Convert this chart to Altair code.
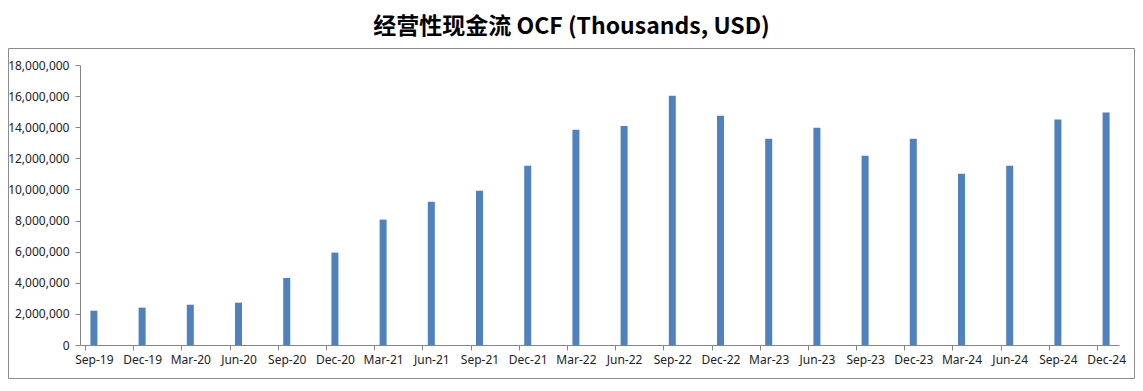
import altair as alt
import pandas as pd

quarters = ["Sep-19", "Dec-19", "Mar-20", "Jun-20", "Sep-20", "Dec-20", "Mar-21", "Jun-21",
            "Sep-21", "Dec-21", "Mar-22", "Jun-22", "Sep-22", "Dec-22", "Mar-23", "Jun-23",
            "Sep-23", "Dec-23", "Mar-24", "Jun-24", "Sep-24", "Dec-24"]
ocf = [2205000, 2400000, 2590000, 2720000, 4310000, 5940000, 8060000, 9210000,
       9920000, 11530000, 13830000, 14080000, 16030000, 14740000, 13260000, 13970000,
       12170000, 13260000, 11010000, 11530000, 14490000, 14940000]

df = pd.DataFrame({"idx": list(range(len(quarters))), "q": quarters, "ocf": ocf})

W, H = 1039, 280
label_expr = "[" + ",".join("'" + q + "'" for q in quarters) + "][datum.value]"

bars = alt.Chart(df).mark_bar(color="#4F81BD", size=7).encode(
    x=alt.X("idx:Q", scale=alt.Scale(domain=[-0.185, 21.164], nice=False, zero=False),
            axis=alt.Axis(values=list(range(len(quarters))), labelExpr=label_expr,
                          title=None, grid=False, tickOffset=-9, labelOffset=9, tickSize=5,
                          labelPadding=4, labelFont="Noto Sans", labelFontSize=12,
                          labelColor="#222222", domainColor="#868686", tickColor="#868686",
                          labelFlush=False, labelOverlap=False)),
    y=alt.Y("ocf:Q", scale=alt.Scale(domain=[0, 18000000], nice=False),
            axis=alt.Axis(values=list(range(0, 18000001, 2000000)), format=",d",
                          title=None, grid=False, tickSize=5, labelPadding=6,
                          labelFont="Noto Sans", labelFontSize=12, labelColor="#222222",
                          domainColor="#868686", tickColor="#868686")),
)

frame = alt.Chart(pd.DataFrame({"a": [0]})).mark_rect(
    fill=None, stroke="#8c8c8c", strokeWidth=1
).encode(
    x=alt.value(-71.5), x2=alt.value(1054.5), y=alt.value(-16.5), y2=alt.value(313.5)
)

chart = alt.layer(frame, bars).properties(
    width=W, height=H,
    autosize=alt.AutoSizeParams(type="none"),
    padding={"left": 72, "top": 57, "right": 16, "bottom": 34},
    title=alt.TitleParams("经营性现金流 OCF (Thousands, USD)", font="Noto Sans CJK SC",
                          fontSize=23, fontWeight="bold", color="#000000",
                          anchor="middle", dx=-28, offset=9),
).configure_view(stroke=None)

chart.save("out.html", embed_options={"renderer": "svg", "actions": False})
